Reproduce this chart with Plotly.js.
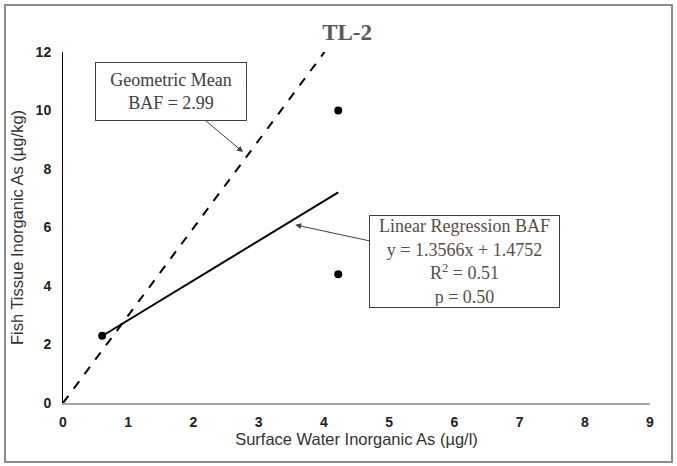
<!DOCTYPE html>
<html>
<head>
<meta charset="utf-8">
<script src="https://cdn.plot.ly/plotly-3.0.1.min.js"></script>
<style>html,body{margin:0;padding:0;background:#fff;}#chart{width:677px;height:466px;}</style>
</head>
<body>
<div id="chart"></div>
<script>
// Observed data
const waterAs = [0.6, 4.22, 4.22];
const fishAs = [2.3, 10.0, 4.4];
// Geometric mean BAF line (y = 2.99x)
const gmX = [0, 4.01];
const gmY = [0, 12];
// Linear regression line (y = 1.3566x + 1.4752)
const regX = [0.6, 4.22];
const regY = [2.29, 7.2];
const xTicks = [0, 1, 2, 3, 4, 5, 6, 7, 8, 9];
const yTicks = [0, 2, 4, 6, 8, 10, 12];

const traces = [
  {x: gmX, y: gmY, mode: 'lines', line: {color: '#000', width: 2, dash: 'dash'}, hoverinfo: 'skip'},
  {x: regX, y: regY, mode: 'lines', line: {color: '#000', width: 2}, hoverinfo: 'skip'},
  {x: waterAs, y: fishAs, mode: 'markers', marker: {color: '#000', size: 8}}
];

const serif = 'Liberation Serif, Times New Roman, serif';
const tickFont = {family: 'Liberation Sans Narrow, Arial Narrow, sans-serif', size: 14, color: '#222', weight: 'bold'};
const axTitleFont = {family: 'Liberation Sans, Arial, sans-serif', size: 16.5, color: '#333'};
const layout = {
  width: 677, height: 466,
  margin: {l: 63, r: 27, t: 52, b: 63},
  paper_bgcolor: '#fff', plot_bgcolor: '#fff',
  showlegend: false,
  title: {text: '<b>TL-2</b>', x: 0.484, xref: 'paper', xanchor: 'center', y: 0.932, yanchor: 'middle',
          font: {family: serif, size: 23, color: '#595959'}},
  xaxis: {
    range: [0, 9], tickvals: xTicks, showgrid: false, zeroline: false,
    showline: true, linecolor: '#a6a6a6', linewidth: 2, ticks: '',
    tickfont: tickFont, ticklabelstandoff: 5,
    title: {text: 'Surface Water Inorganic As (µg/l)', standoff: 3, font: axTitleFont}
  },
  yaxis: {
    range: [0, 12], tickvals: yTicks, showgrid: false, zeroline: false,
    showline: true, linecolor: '#000', linewidth: 1, ticks: '',
    tickfont: tickFont, ticklabelstandoff: 8,
    title: {text: 'Fish Tissue Inorganic As (µg/kg)', standoff: 7, font: axTitleFont}
  },
  annotations: [
    {x: 2.76, y: 8.58, xref: 'x', yref: 'y', ax: -72, ay: -60.5,
     text: 'Geometric Mean<br>BAF = 2.99', showarrow: true, arrowhead: 2, arrowsize: 1.2,
     arrowwidth: 1, arrowcolor: '#404040', bgcolor: '#fff', bordercolor: '#404040', borderwidth: 1,
     borderpad: 1, width: 148, height: 55,
     font: {family: serif, size: 18, color: '#404040'}},
    {x: 3.56, y: 6.09, xref: 'x', yref: 'y', ax: 169.5, ay: 36.5,
     text: 'Linear Regression BAF<br>y = 1.3566x + 1.4752<br>R<sup>2</sup> = 0.51<br>p = 0.50',
     showarrow: true, arrowhead: 2, arrowsize: 1.2,
     arrowwidth: 1, arrowcolor: '#404040', bgcolor: '#fff', bordercolor: '#404040', borderwidth: 1,
     borderpad: 1, width: 187, height: 89,
     font: {family: serif, size: 18, color: '#5a4e44'}}
  ],
  shapes: [
    {type: 'rect', xref: 'paper', yref: 'paper', x0: -0.0988, x1: 1.0375, y0: -0.168, y1: 1.134,
     line: {color: '#8c8c8c', width: 2}, fillcolor: 'rgba(0,0,0,0)', layer: 'below'}
  ]
};

Plotly.newPlot('chart', traces, layout, {displayModeBar: false, staticPlot: true});
</script>
</body>
</html>
